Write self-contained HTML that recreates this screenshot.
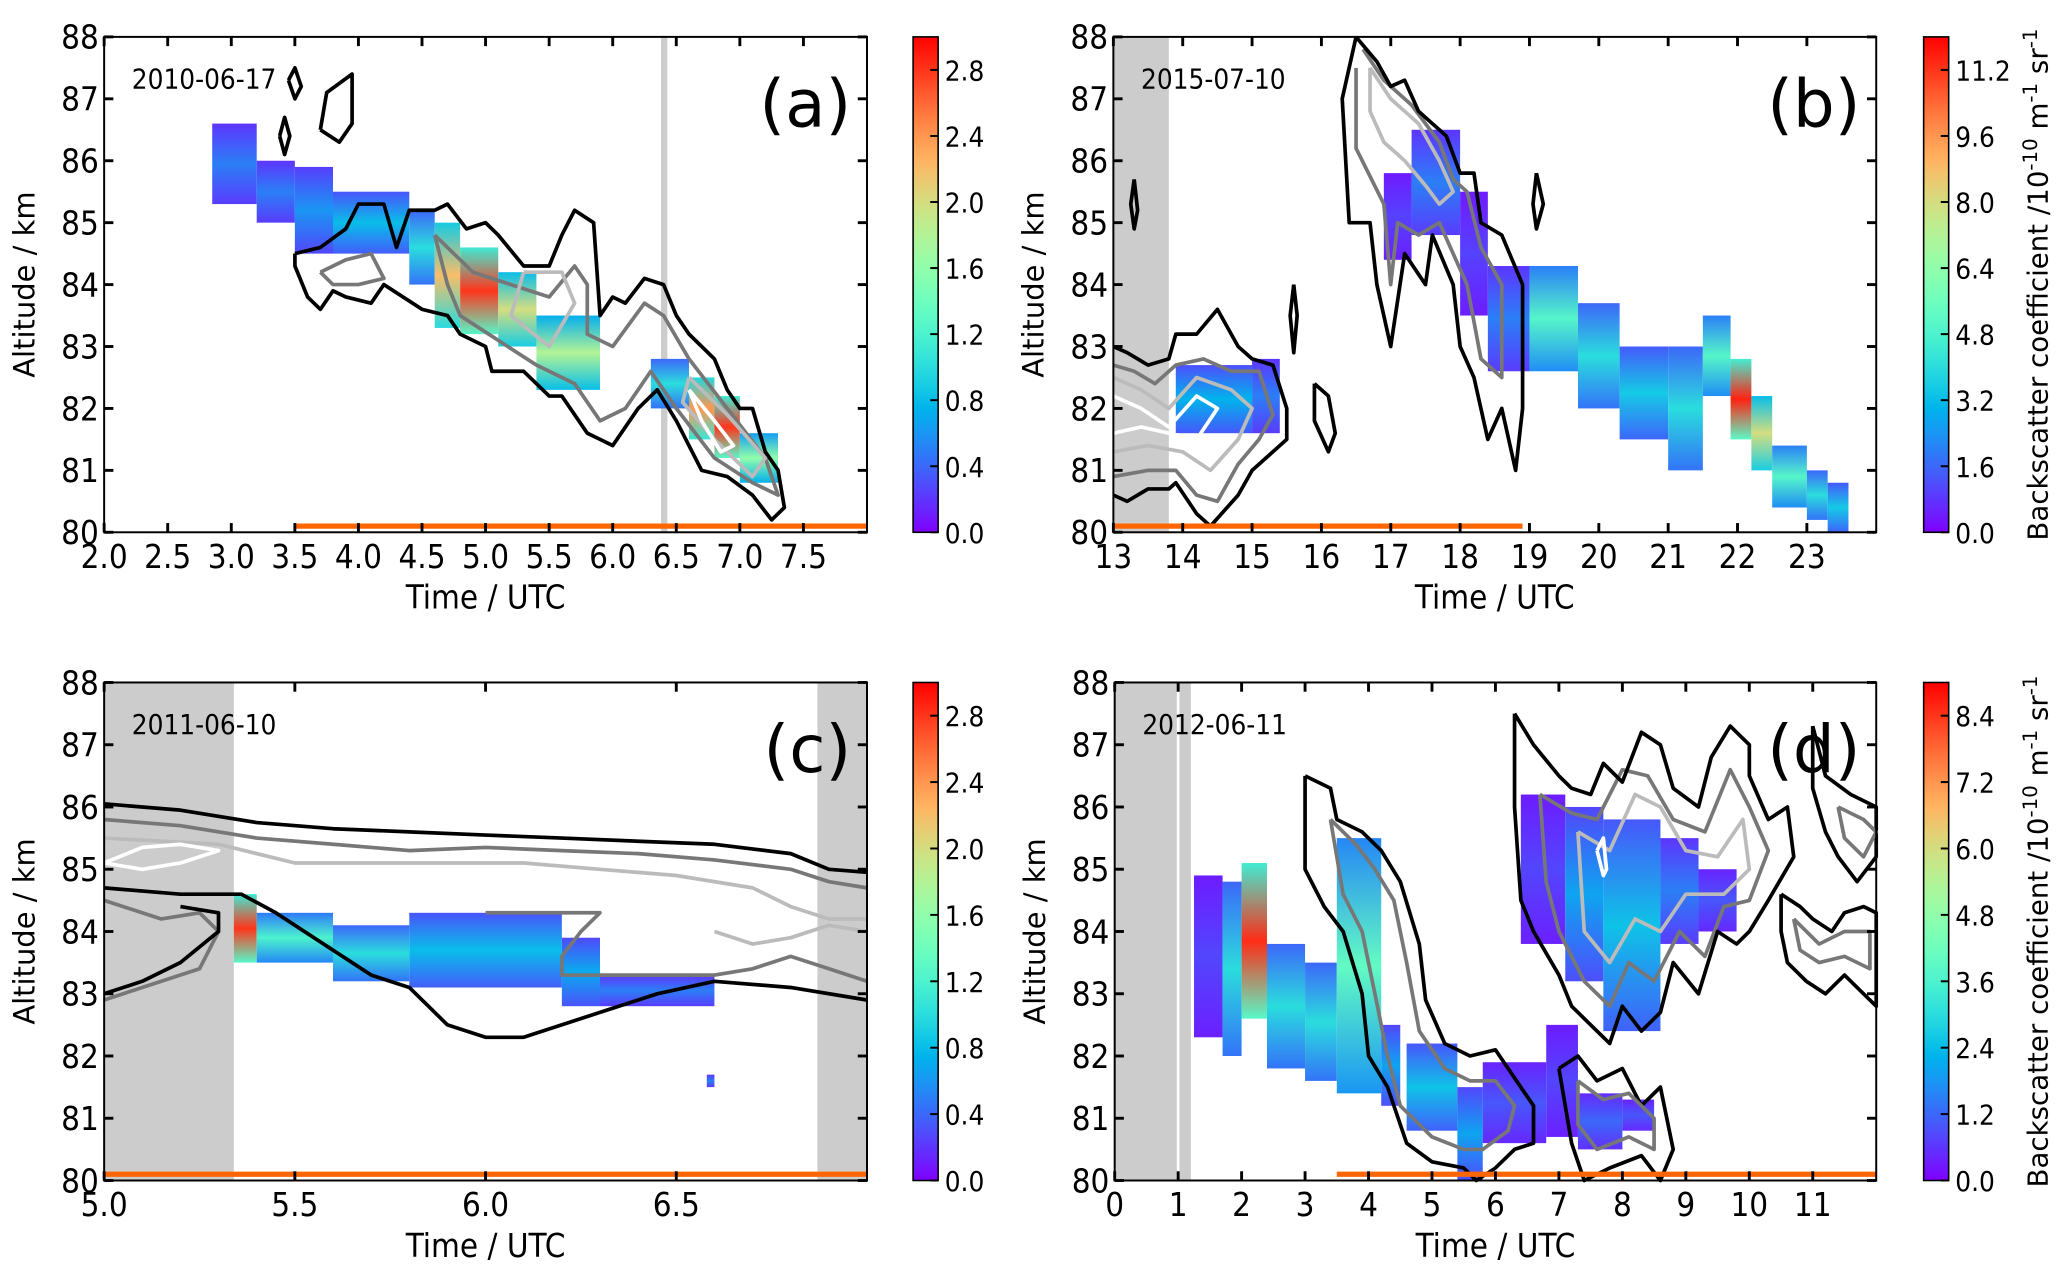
<!DOCTYPE html>
<html><head><meta charset="utf-8">
<style>
html,body{margin:0;padding:0;background:#fff;}
svg{display:block;}
text{font-family:"DejaVu Sans Condensed","Liberation Sans Narrow","Liberation Sans",sans-serif;fill:#000;}
.wide{font-family:"DejaVu Sans","Liberation Sans",sans-serif;}
</style></head>
<body>
<svg id="fig" width="2066" height="1278" viewBox="0 0 1568 970" xmlns="http://www.w3.org/2000/svg">
<defs>
<linearGradient id="cbar" x1="0" y1="1" x2="0" y2="0"></linearGradient>
</defs>
</svg>
<script>
// ---------- DATA ----------
// heatmap columns: [t0, t1, altLow, altHigh, peakValue]
const heatA = [[2.85,3.2,85.3,86.6,0.5],[3.2,3.5,85.0,86.0,0.5],[3.5,3.8,84.5,85.9,0.6],[3.8,4.4,84.5,85.5,0.8],[4.4,4.6,84.0,85.2,1.0],[4.6,4.8,83.3,85.0,2.2],[4.8,5.1,83.2,84.6,2.8],[5.1,5.4,83.0,84.2,2.0],[5.4,5.9,82.3,83.5,1.8],[6.3,6.6,82.0,82.8,1.0],[6.6,6.8,81.5,82.5,2.4],[6.8,7.0,81.2,82.2,2.8],[7.0,7.3,80.8,81.6,1.6]];
const heatB = [[13.9,15.0,81.6,82.7,3],[15.0,15.4,81.6,82.8,2],[16.9,17.3,84.4,85.8,1],[17.3,18.0,84.8,86.5,2],[18.0,18.4,83.5,85.5,1],[18.4,19.0,82.6,84.3,2],[19.0,19.7,82.6,84.3,5],[19.7,20.3,82.0,83.7,4],[20.3,21.0,81.5,83.0,3.5],[21.0,21.5,81.0,83.0,4],[21.5,21.9,82.2,83.5,5],[21.9,22.2,81.5,82.8,11.5],[22.2,22.5,81.0,82.2,8],[22.5,23.0,80.4,81.4,5],[23.0,23.3,80.2,81.0,4],[23.3,23.6,80.0,80.8,3.5]];
const heatC = [[5.34,5.4,83.5,84.6,2.8],[5.4,5.6,83.5,84.3,1.2],[5.6,5.8,83.2,84.1,1.0],[5.8,6.2,83.1,84.3,0.8],[6.2,6.3,82.8,83.9,0.7],[6.3,6.6,82.8,83.3,0.5],[6.58,6.6,81.5,81.7,0.5]];
const heatD = [[1.25,1.7,82.3,84.9,0.8],[1.7,2.0,82.0,84.8,3],[2.0,2.4,82.6,85.1,8.5],[2.4,3.0,81.8,83.8,3],[3.0,3.5,81.6,83.5,3],[3.5,4.2,81.4,85.5,4],[4.2,4.5,81.2,82.5,2],[4.6,5.4,80.8,82.2,2.5],[5.4,5.8,80.0,81.5,2],[5.8,6.8,80.6,81.9,1],[6.8,7.3,80.7,82.5,0.8],[7.3,8.0,80.5,81.4,1.2],[8.0,8.5,80.8,81.3,1],[6.4,7.1,83.8,86.2,0.8],[7.1,7.7,83.2,86.0,2],[7.7,8.6,82.4,85.8,2.5],[8.6,9.2,83.8,85.5,1.5],[9.2,9.8,84.0,85.0,1.0]];

// contour lines: arrays of [time, altitude]
const contA_black1 = [[3.5,84.5],[3.7,84.6],[3.9,84.9],[4.0,85.3],[4.2,85.3],[4.3,84.6],[4.4,85.2],[4.6,85.2],[4.7,85.3],[4.85,84.9],[5.0,85.0],[5.1,84.8],[5.3,84.3],[5.5,84.3],[5.6,84.8],[5.7,85.2],[5.85,85.0],[5.9,83.5],[6.0,83.8],[6.1,83.7],[6.25,84.1],[6.4,84.0],[6.5,83.5],[6.6,83.2],[6.8,82.8],[6.9,82.3],[7.0,82.0],[7.1,82.0],[7.2,81.3],[7.3,81.0],[7.35,80.4],[7.25,80.2],[7.1,80.6],[6.9,80.9],[6.7,81.0],[6.5,81.8],[6.35,82.3],[6.2,82.0],[6.0,81.4],[5.9,81.5],[5.8,81.6],[5.6,82.2],[5.5,82.2],[5.3,82.6],[5.05,82.6],[5.0,83.0],[4.8,83.2],[4.7,83.5],[4.5,83.6],[4.2,84.0],[4.1,83.7],[3.9,83.8],[3.8,83.9],[3.7,83.6],[3.6,83.8],[3.5,84.3],[3.5,84.5]];
const contA_gray1 = [[4.6,84.8],[4.9,84.2],[5.2,84.0],[5.5,83.8],[5.7,84.3],[5.8,84.0],[5.8,83.2],[6.0,83.0],[6.25,83.7],[6.4,83.5],[6.6,82.8],[6.9,82.0],[7.2,81.2],[7.3,80.6],[7.1,80.8],[6.8,81.2],[6.5,82.0],[6.3,82.6],[6.1,82.0],[5.9,81.8],[5.7,82.4],[5.4,82.7],[5.1,83.1],[4.8,83.5],[4.7,84.0],[4.6,84.8]];
const contA_gray2 = [[3.7,84.2],[3.9,84.4],[4.1,84.5],[4.2,84.1],[4.0,84.0],[3.8,84.0],[3.7,84.2]];
const contA_light1 = [[5.3,84.2],[5.6,84.2],[5.7,83.7],[5.5,83.0],[5.2,83.5],[5.3,84.2]];
const contA_light2 = [[6.6,82.5],[6.9,81.9],[7.2,81.2],[7.1,80.9],[6.8,81.5],[6.55,82.1],[6.6,82.5]];
const contA_white1 = [[6.6,82.3],[6.8,81.8],[6.95,81.4],[6.85,81.3],[6.7,81.8],[6.6,82.3]];
const contA_black2 = [[3.7,86.5],[3.75,87.1],[3.95,87.4],[3.95,86.6],[3.85,86.3],[3.7,86.5]];
const contA_black3 = [[3.45,87.3],[3.5,87.5],[3.55,87.2],[3.5,87.0],[3.45,87.3]];
const contA_black4 = [[3.38,86.4],[3.42,86.7],[3.46,86.4],[3.42,86.1],[3.38,86.4]];

const contB_black1 = [[13.0,83.0],[13.2,82.9],[13.5,82.7],[13.8,82.8],[13.9,83.2],[14.2,83.2],[14.5,83.6],[14.8,83.0],[15.0,82.8],[15.3,82.7],[15.5,82.0],[15.5,81.5],[15.3,81.3],[15.0,81.0],[14.8,80.6],[14.4,80.1],[14.2,80.3],[13.9,80.8],[13.8,80.7],[13.5,80.7],[13.2,80.5],[13.0,80.6]];
const contB_gray1 = [[13.0,82.7],[13.3,82.6],[13.6,82.4],[13.9,82.7],[14.3,82.8],[14.7,82.6],[15.1,82.6],[15.3,81.9],[15.1,81.5],[14.8,81.1],[14.5,80.5],[14.2,80.6],[13.9,81.0],[13.5,81.0],[13.0,80.9]];
const contB_light1 = [[13.0,82.5],[13.4,82.3],[13.8,82.0],[14.2,82.5],[14.7,82.3],[15.0,82.0],[14.8,81.5],[14.4,81.0],[14.0,81.3],[13.5,81.4],[13.0,81.3]];
const contB_white1 = [[13.0,82.2],[13.4,82.0],[13.8,81.7],[14.2,82.2],[14.5,82.0],[14.2,81.5],[13.8,81.6],[13.4,81.7],[13.0,81.6]];
const contB_black2 = [[16.5,88.0],[16.8,87.6],[17.0,87.2],[17.2,87.3],[17.4,86.8],[17.6,86.6],[17.8,86.4],[18.0,85.8],[18.2,85.8],[18.3,85.0],[18.6,84.8],[18.9,84.0],[18.9,82.0],[18.8,81.0],[18.6,82.0],[18.4,81.5],[18.2,82.5],[18.0,83.0],[17.9,84.0],[17.6,84.8],[17.5,84.0],[17.2,84.5],[17.0,83.0],[16.8,84.0],[16.7,85.0],[16.4,85.0],[16.3,87.0],[16.5,88.0]];
const contB_gray2 = [[16.6,87.8],[16.9,87.3],[17.3,86.9],[17.7,86.3],[17.9,85.7],[18.1,85.5],[18.3,84.6],[18.6,84.0],[18.6,82.5],[18.3,82.8],[18.1,84.0],[17.7,85.0],[17.4,84.8],[17.1,85.0],[17.0,84.0],[16.9,85.3],[16.5,86.2],[16.5,87.5]];
const contB_light2 = [[16.7,87.5],[17.0,87.0],[17.4,86.6],[17.7,86.0],[17.9,85.5],[17.7,85.3],[17.5,85.6],[17.2,86.0],[16.9,86.3],[16.7,86.8],[16.7,87.5]];
const contB_black3 = [[15.6,84.0],[15.65,83.5],[15.6,82.9],[15.55,83.5],[15.6,84.0]];
const contB_black4 = [[15.9,82.4],[16.1,82.2],[16.2,81.6],[16.1,81.3],[15.9,81.8],[15.9,82.4]];
const contB_black5 = [[13.3,85.7],[13.35,85.2],[13.3,84.9],[13.25,85.3],[13.3,85.7]];
const contB_black6 = [[19.1,85.8],[19.2,85.3],[19.1,84.9],[19.05,85.3],[19.1,85.8]];

const contC_black1 = [[5.0,86.05],[5.2,85.95],[5.4,85.75],[5.6,85.65],[5.8,85.6],[6.0,85.55],[6.2,85.5],[6.4,85.45],[6.6,85.4],[6.8,85.25],[6.9,85.0],[7.0,84.95]];
const contC_gray1 = [[5.0,85.8],[5.2,85.7],[5.4,85.5],[5.6,85.4],[5.8,85.3],[6.0,85.35],[6.2,85.3],[6.4,85.25],[6.6,85.15],[6.8,85.0],[6.9,84.8],[7.0,84.7]];
const contC_light1 = [[5.0,85.5],[5.3,85.4],[5.5,85.1],[5.7,85.1],[5.9,85.1],[6.1,85.1],[6.3,85.0],[6.5,84.9],[6.7,84.7],[6.8,84.4],[6.9,84.2],[7.0,84.2]];
const contC_white1 = [[5.0,85.1],[5.1,85.35],[5.2,85.4],[5.3,85.3],[5.2,85.1],[5.1,85.0],[5.0,85.1]];
const contC_black2 = [[5.0,84.7],[5.2,84.6],[5.3,84.6],[5.36,84.6],[5.45,84.3],[5.55,83.9],[5.7,83.3],[5.8,83.1],[5.9,82.5],[6.0,82.3],[6.1,82.3],[6.3,82.7],[6.45,83.0],[6.6,83.2],[6.8,83.1],[7.0,82.9]];
const contC_gray2 = [[5.0,84.5],[5.15,84.2],[5.25,84.3],[5.3,84.0],[5.25,83.4],[5.1,83.1],[5.0,82.9]];
const contC_black3 = [[5.0,83.0],[5.1,83.2],[5.2,83.5],[5.3,84.0],[5.3,84.3],[5.2,84.4]];
const contC_gray3 = [[6.0,84.3],[6.1,84.3],[6.3,84.3],[6.25,84.0],[6.2,83.6],[6.2,83.3],[6.3,83.3],[6.4,83.3],[6.6,83.3],[6.7,83.4],[6.8,83.6],[6.9,83.4],[7.0,83.2]];
const contC_light2 = [[6.6,84.0],[6.7,83.8],[6.8,83.9],[6.9,84.1],[7.0,84.0]];

const contD_black1 = [[3.0,86.5],[3.4,86.3],[3.5,85.8],[3.9,85.6],[4.2,85.3],[4.5,84.8],[4.8,83.8],[4.9,82.9],[5.2,82.2],[5.6,82.0],[6.0,82.1],[6.2,81.8],[6.6,81.2],[6.6,80.6],[6.3,80.5],[6.0,80.2],[5.7,80.0],[5.5,80.2],[5.0,80.3],[4.6,80.6],[4.3,81.5],[4.0,82.0],[3.9,83.0],[3.6,84.0],[3.3,84.4],[3.0,85.0],[3.0,86.5]];
const contD_gray1 = [[3.4,85.8],[3.8,85.4],[4.1,85.0],[4.4,84.5],[4.6,83.5],[4.8,82.4],[5.2,81.8],[5.6,81.6],[6.0,81.6],[6.3,81.2],[6.2,80.8],[5.8,80.5],[5.5,80.5],[5.0,80.7],[4.5,81.2],[4.3,82.0],[4.1,83.0],[3.9,84.0],[3.6,84.6],[3.4,85.8]];
const contD_black2 = [[6.3,87.5],[6.6,87.0],[7.0,86.5],[7.2,86.3],[7.5,86.2],[7.7,86.7],[8.0,86.4],[8.3,87.2],[8.6,87.0],[8.8,86.3],[9.2,86.0],[9.4,86.8],[9.7,87.3],[10.0,87.0],[10.0,86.5],[10.3,85.8],[10.6,86.0],[10.7,85.2],[10.3,84.5],[10.0,84.0],[9.8,83.8],[9.5,84.0],[9.2,83.0],[8.8,83.5],[8.6,82.7],[8.3,82.4],[8.0,82.8],[7.8,82.2],[7.5,82.5],[7.2,82.8],[7.0,83.3],[6.6,84.0],[6.4,84.5],[6.3,86.0],[6.3,87.5]];
const contD_gray2 = [[6.7,86.2],[7.2,85.9],[7.6,85.8],[8.0,86.6],[8.4,86.5],[8.8,85.8],[9.3,85.6],[9.7,86.6],[10.0,86.0],[10.3,85.3],[10.0,84.5],[9.6,84.4],[9.3,83.6],[8.9,84.0],[8.5,83.2],[8.1,83.5],[7.8,82.8],[7.4,83.2],[7.0,84.0],[6.8,84.8],[6.7,86.2]];
const contD_light2 = [[7.3,85.6],[7.8,85.3],[8.2,86.2],[8.6,86.0],[9.0,85.3],[9.5,85.2],[9.9,85.8],[10.0,85.0],[9.6,84.6],[9.0,84.6],[8.6,84.0],[8.2,84.2],[7.8,83.5],[7.4,84.0],[7.3,85.6]];
const contD_white2 = [[7.6,85.3],[7.7,85.5],[7.75,85.0],[7.7,84.9],[7.6,85.3]];
const contD_black3 = [[7.0,81.8],[7.3,82.0],[7.6,81.6],[8.0,81.8],[8.3,81.2],[8.6,81.5],[8.8,80.5],[8.6,80.0],[8.3,80.4],[7.8,80.2],[7.4,80.0],[7.2,80.6],[7.0,81.8]];
const contD_gray3 = [[7.3,81.6],[7.7,81.3],[8.1,81.4],[8.5,81.0],[8.5,80.5],[8.1,80.7],[7.6,80.5],[7.3,80.9],[7.3,81.6]];
const contD_black4 = [[10.5,84.6],[10.8,84.4],[11.0,84.2],[11.3,84.0],[11.5,84.3],[11.8,84.4],[12.0,84.3],[12.0,82.8],[11.8,83.0],[11.5,83.3],[11.2,83.0],[10.9,83.2],[10.6,83.5],[10.5,84.0],[10.5,84.6]];
const contD_gray4 = [[10.7,84.2],[11.1,83.8],[11.5,84.0],[11.9,84.0],[11.9,83.4],[11.5,83.6],[11.1,83.5],[10.8,83.7],[10.7,84.2]];
const contD_black5 = [[11.0,87.3],[11.2,86.5],[11.6,86.2],[12.0,86.0],[12.0,85.2],[11.7,84.8],[11.4,85.2],[11.2,85.6],[11.0,86.3],[11.0,87.3]];
const contD_gray5 = [[11.4,86.0],[11.8,85.8],[12.0,85.6],[11.8,85.2],[11.5,85.5],[11.4,86.0]];

// colorbar ticks
const cbTicksAC = [0.0,0.4,0.8,1.2,1.6,2.0,2.4,2.8];
const cbTicksB = [0.0,1.6,3.2,4.8,6.4,8.0,9.6,11.2];
const cbTicksD = [0.0,1.2,2.4,3.6,4.8,6.0,7.2,8.4];
const xTicksA = [2.0,2.5,3.0,3.5,4.0,4.5,5.0,5.5,6.0,6.5,7.0,7.5];
const xTicksB = [13,14,15,16,17,18,19,20,21,22,23];
const xTicksC = [5.0,5.5,6.0,6.5];
const xTicksD = [0,1,2,3,4,5,6,7,8,9,10,11];
const yTicks = [80,81,82,83,84,85,86,87,88];

// ---------- RENDER ----------
const NS = "http://www.w3.org/2000/svg";
const svg = document.getElementById('fig');
const defs = svg.querySelector('defs');
let gid = 0;
function mk(tag, attrs, parent){ const e=document.createElementNS(NS,tag); for(const k in attrs) e.setAttribute(k,attrs[k]); (parent||svg).appendChild(e); return e; }
function cmap(x){ x=Math.max(0,Math.min(1,x)); const r=Math.abs(2*x-0.5), g=Math.sin(Math.PI*x), b=Math.cos(Math.PI*x/2);
  return 'rgb('+Math.round(Math.min(1,r)*255)+','+Math.round(g*255)+','+Math.round(b*255)+')'; }
const cg = defs.querySelector('#cbar');
for(let i=0;i<=20;i++){ mk('stop',{offset:(i/20),'stop-color':cmap(i/20)},cg); }

function panel(cfg){
  const g = mk('g',{});
  
  
  const X = t => cfg.x0 + (t-cfg.t0)/(cfg.t1-cfg.t0)*(cfg.x1-cfg.x0);
  const Y = a => cfg.y1 - (a-80)/8*(cfg.y1-cfg.y0);
  cfg.gray.forEach(r=>{ const e=mk('rect',{x:X(r[0]),y:cfg.y0,width:X(r[1])-X(r[0]),height:cfg.y1-cfg.y0,fill:'#cccccc'},g);
      });
  if(cfg.whiteLine!==undefined){ mk('line',{x1:X(cfg.whiteLine),x2:X(cfg.whiteLine),y1:cfg.y0,y2:cfg.y1,stroke:'#fff','stroke-width':2},g); }
  cfg.heat.forEach(c=>{
    const id='hg'+(gid++);
    const lg=mk('linearGradient',{id:id,x1:0,y1:0,x2:0,y2:1},defs);
    const v=c[4]/cfg.vmax;
    mk('stop',{offset:0,'stop-color':cmap(v*0.4)},lg);
    mk('stop',{offset:0.5,'stop-color':cmap(v)},lg);
    mk('stop',{offset:1,'stop-color':cmap(v*0.45)},lg);
    const e=mk('rect',{x:X(c[0]),y:Y(c[3]),width:X(c[1])-X(c[0]),height:Y(c[2])-Y(c[3]),fill:'url(#'+id+')'},g);
     
  });
  const col={black:'#000',gray:'#777',light:'#bbb',white:'#fff'};
  cfg.cont.forEach(c=>{
    const pts=c[1].map(p=>X(p[0]).toFixed(1)+','+Y(p[1]).toFixed(1)).join(' ');
    const e=mk('polyline',{points:pts,fill:'none',stroke:col[c[0]],'stroke-width':2.8,'stroke-linejoin':'round'},g);
     
  });
  const ob=mk('line',{x1:X(cfg.orange[0]),x2:X(cfg.orange[1]),y1:Y(80.1),y2:Y(80.1),stroke:'#ff6600','stroke-width':4},g);
   
  const fr=mk('rect',{x:cfg.x0,y:cfg.y0,width:cfg.x1-cfg.x0,height:cfg.y1-cfg.y0,fill:'none',stroke:'#000','stroke-width':1.5},g);
   
  yTicks.forEach(a=>{
    mk('line',{x1:cfg.x0,x2:cfg.x0+7,y1:Y(a),y2:Y(a),stroke:'#000','stroke-width':2.2},g);
    mk('line',{x1:cfg.x1,x2:cfg.x1-7,y1:Y(a),y2:Y(a),stroke:'#000','stroke-width':2.2},g);
    const t=mk('text',{x:cfg.x0-4,y:Y(a)+9,'font-size':25,'text-anchor':'end'},g); t.textContent=a;
     
  });
  cfg.xt.forEach(v=>{
    mk('line',{x1:X(v),x2:X(v),y1:cfg.y1,y2:cfg.y1-7,stroke:'#000','stroke-width':2.2},g);
    mk('line',{x1:X(v),x2:X(v),y1:cfg.y0,y2:cfg.y0+7,stroke:'#000','stroke-width':2.2},g);
    const t=mk('text',{x:X(v),y:cfg.y1+27,'font-size':25,'text-anchor':'middle'},g); t.textContent=cfg.fmt(v);
     
  });
  const yl=mk('text',{x:0,y:0,'font-size':22,'text-anchor':'middle','class':'wide',transform:'translate('+(cfg.x0-53)+','+((cfg.y0+cfg.y1)/2)+') rotate(-90)'},g);
  yl.textContent='Altitude / km';  
  const xl=mk('text',{x:(cfg.x0+cfg.x1)/2,y:cfg.y1+58,'font-size':25,'text-anchor':'middle'},g);
  xl.textContent='Time / UTC';  
  const dl=mk('text',{x:cfg.x0+21,y:cfg.y0+39,'font-size':21},g);
  dl.textContent=cfg.date;  
  const pl=mk('text',{x:cfg.x1-12,y:cfg.y0+68,'font-size':50,'text-anchor':'end','class':'wide'},g);
  pl.textContent=cfg.letter;  
  const cb=mk('rect',{x:cfg.cbx,y:cfg.y0,width:19,height:cfg.y1-cfg.y0,fill:'url(#cbar)',stroke:'#000','stroke-width':1.2},g);
   
  cfg.cbt.forEach(v=>{
    const yy=cfg.y1-(v/cfg.vmax)*(cfg.y1-cfg.y0);
    mk('line',{x1:cfg.cbx+19,x2:cfg.cbx+13,y1:yy,y2:yy,stroke:'#000','stroke-width':1.5},g);
    const t=mk('text',{x:cfg.cbx+24,y:yy+8,'font-size':21},g); t.textContent=v.toFixed(1);
     
  });
  if(cfg.cbLabel){
    const t=mk('text',{x:0,y:0,'font-size':21,'text-anchor':'middle','class':'wide',transform:'translate('+(cfg.cbx+94)+','+((cfg.y0+cfg.y1)/2)+') rotate(-90)'},g);
    t.innerHTML='Backscatter coefficient /10<tspan dy="-8" font-size="15">-10</tspan><tspan dy="8"> m</tspan><tspan dy="-8" font-size="15">-1</tspan><tspan dy="8"> sr</tspan><tspan dy="-8" font-size="15">-1</tspan>';
     
  }
}
const f1=v=>v.toFixed(1), f0=v=>String(v);
panel({name:'panel-a',x0:79,x1:658,y0:28,y1:404,t0:2,t1:8,xt:xTicksA,fmt:f1,heat:heatA,vmax:3,gray:[[6.38,6.43]],orange:[3.5,8.0],
  cont:[['black',contA_black1],['gray',contA_gray1],['gray',contA_gray2],['light',contA_light1],['light',contA_light2],['white',contA_white1],['black',contA_black2],['black',contA_black3],['black',contA_black4]],
  date:'2010-06-17',letter:'(a)',cbx:693,cbt:cbTicksAC,cbLabel:false});
panel({name:'panel-b',x0:845,x1:1424,y0:28,y1:404,t0:13,t1:24,xt:xTicksB,fmt:f0,heat:heatB,vmax:12,gray:[[13,13.8]],orange:[13,18.9],
  cont:[['light',contB_light1],['white',contB_white1],['gray',contB_gray1],['black',contB_black1],['light',contB_light2],['gray',contB_gray2],['black',contB_black2],['black',contB_black3],['black',contB_black4],['black',contB_black5],['black',contB_black6]],
  date:'2015-07-10',letter:'(b)',cbx:1460,cbt:cbTicksB,cbLabel:true});
panel({name:'panel-c',x0:79,x1:658,y0:518,y1:896,t0:5,t1:7,xt:xTicksC,fmt:f1,heat:heatC,vmax:3,gray:[[5.0,5.34],[6.87,7.0]],orange:[5.0,7.0],
  cont:[['black',contC_black1],['gray',contC_gray1],['light',contC_light1],['white',contC_white1],['black',contC_black2],['gray',contC_gray2],['black',contC_black3],['gray',contC_gray3],['light',contC_light2]],
  date:'2011-06-10',letter:'(c)',cbx:693,cbt:cbTicksAC,cbLabel:false});
panel({name:'panel-d',x0:846,x1:1424,y0:518,y1:896,t0:0,t1:12,xt:xTicksD,fmt:f0,heat:heatD,vmax:9,gray:[[0,1.2]],whiteLine:1.0,orange:[3.5,12],
  cont:[['black',contD_black1],['gray',contD_gray1],['light',contD_light2],['gray',contD_gray2],['black',contD_black2],['white',contD_white2],['black',contD_black3],['gray',contD_gray3],['black',contD_black4],['gray',contD_gray4],['black',contD_black5],['gray',contD_gray5]],
  date:'2012-06-11',letter:'(d)',cbx:1460,cbt:cbTicksD,cbLabel:true});
</script>
</body></html>
